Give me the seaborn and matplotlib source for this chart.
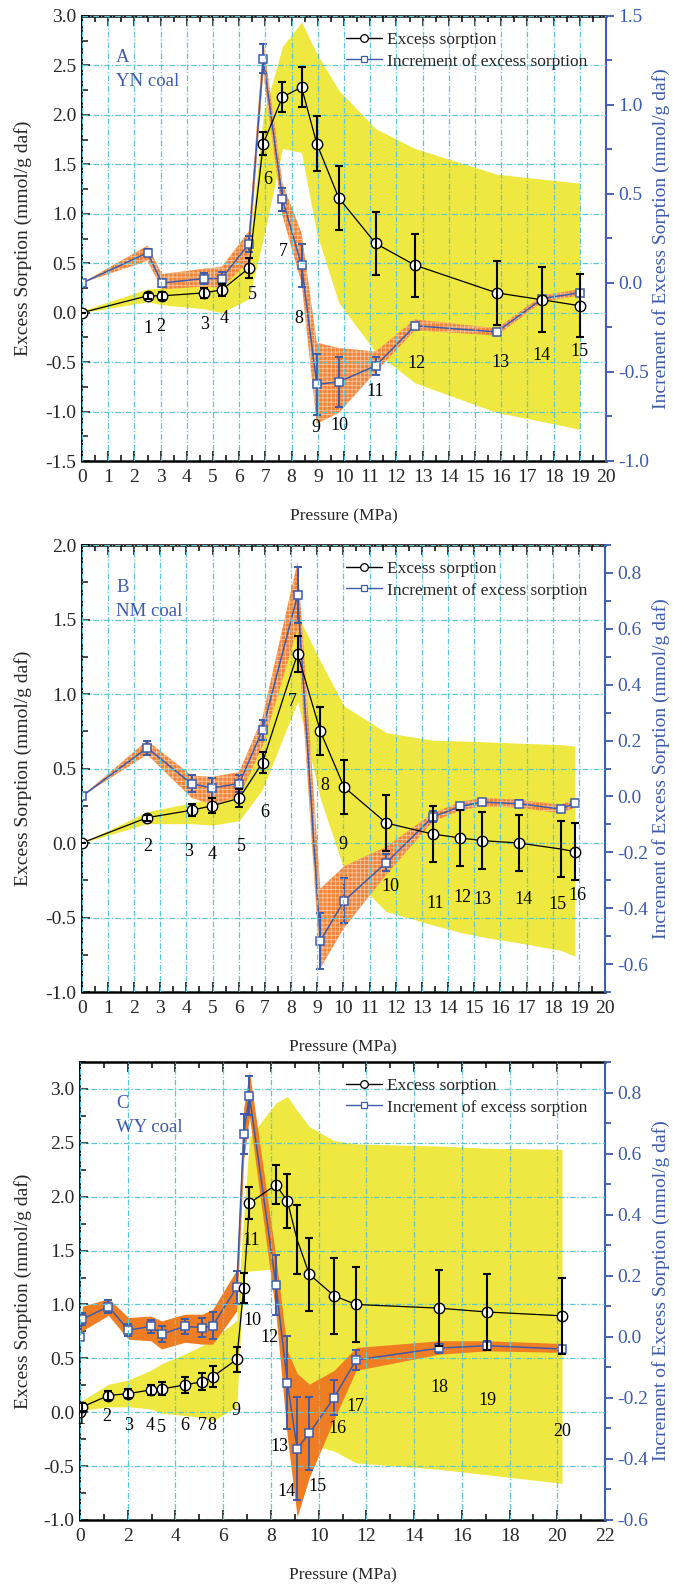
import matplotlib
matplotlib.use("Agg")
import matplotlib.pyplot as plt
from matplotlib.lines import Line2D
from matplotlib.ticker import MultipleLocator, FormatStrFormatter
import seaborn as sns

# ---------------- Panel A : YN coal ----------------
pA = [0, 2.5, 3.05, 4.65, 5.33, 6.37, 6.92, 7.65, 8.38, 8.96, 9.8, 11.21, 12.71, 15.83, 17.57, 19.0]
excA = [0.0, 0.17, 0.17, 0.20, 0.23, 0.45, 1.71, 2.18, 2.28, 1.71, 1.16, 0.70, 0.48, 0.20, 0.13, 0.07]
excA_err = [0, 0.03, 0.04, 0.05, 0.06, 0.10, 0.12, 0.15, 0.20, 0.28, 0.32, 0.32, 0.32, 0.32, 0.33, 0.32]
incA = [0.0, 0.17, 0.0, 0.025, 0.025, 0.22, 1.26, 0.47, 0.10, -0.57, -0.555, -0.465, -0.24, -0.275, -0.088, -0.054]
incA_err = [0, 0.02, 0.02, 0.03, 0.035, 0.045, 0.08, 0.065, 0.12, 0.17, 0.14, 0.05, 0.015, 0.015, 0.015, 0.015]
yelA_lo = [0.0, 0.11, 0.08, 0.04, 0.0, 0.14, 0.75, 1.66, 1.62, 0.80, 0.10, -0.40, -0.71, -1.01, -1.10, -1.18]
yelA_hi = [0.02, 0.24, 0.25, 0.28, 0.30, 0.60, 2.00, 2.69, 2.94, 2.62, 2.25, 1.86, 1.66, 1.40, 1.35, 1.31]
orgA_lo = [0.0, 0.125, -0.035, -0.02, -0.025, 0.12, 1.18, 0.38, 0.0, -0.79, -0.73, -0.50, -0.265, -0.295, -0.105, -0.07]
orgA_hi = [0.0, 0.21, 0.05, 0.08, 0.09, 0.29, 1.36, 0.56, 0.28, -0.335, -0.365, -0.385, -0.205, -0.255, -0.07, -0.035]
labA_x = [2.5, 3.0, 4.68, 5.42, 6.5, 7.08, 7.68, 8.29, 8.92, 9.84, 11.21, 12.77, 15.97, 17.54, 19.0]
labA_y = [-0.16, -0.14, -0.12, -0.06, 0.185, 1.35, 0.616, -0.06, -1.16, -1.14, -0.80, -0.51, -0.50, -0.43, -0.39]
labA_t = [str(i) for i in range(1, 16)]

# ---------------- Panel B : NM coal ----------------
pB = [0, 2.5, 4.2, 4.99, 6.02, 6.91, 8.25, 9.12, 10.03, 11.64, 13.42, 14.47, 15.3, 16.7, 18.3, 18.85]
excB = [0.0, 0.17, 0.22, 0.25, 0.30, 0.54, 1.27, 0.75, 0.375, 0.134, 0.06, 0.034, 0.016, 0.0, -0.04, -0.058]
excB_err = [0, 0.02, 0.04, 0.05, 0.06, 0.07, 0.12, 0.16, 0.18, 0.19, 0.187, 0.187, 0.19, 0.19, 0.19, 0.19]
incB = [0.0, 0.174, 0.045, 0.031, 0.046, 0.238, 0.72, -0.517, -0.373, -0.237, -0.073, -0.036, -0.02, -0.026, -0.045, -0.024]
incB_err = [0, 0.025, 0.03, 0.035, 0.03, 0.035, 0.1, 0.1, 0.08, 0.03, 0.02, 0.012, 0.012, 0.012, 0.012, 0.012]
yelB_lo = [0.0, 0.13, 0.13, 0.12, 0.15, 0.36, 0.95, 0.30, -0.18, -0.46, -0.55, -0.60, -0.63, -0.67, -0.72, -0.76]
yelB_hi = [0.0, 0.21, 0.27, 0.30, 0.45, 0.70, 1.53, 1.22, 0.92, 0.74, 0.69, 0.685, 0.68, 0.67, 0.66, 0.65]
orgB_lo = [0.0, 0.15, -0.005, -0.03, 0.0, 0.18, 0.60, -0.615, -0.47, -0.28, -0.09, -0.05, -0.035, -0.04, -0.06, -0.04]
orgB_hi = [0.0, 0.20, 0.075, 0.07, 0.087, 0.283, 0.84, -0.33, -0.25, -0.18, -0.06, -0.02, -0.005, -0.012, -0.03, -0.01]
labB_x = [2.51, 4.1, 5.0, 6.1, 7.0, 8.06, 9.3, 9.98, 11.8, 13.5, 14.56, 15.3, 16.88, 18.18, 18.96]
labB_y = [-0.022, -0.056, -0.074, -0.022, 0.206, 0.953, 0.385, -0.007, -0.293, -0.405, -0.369, -0.38, -0.376, -0.414, -0.353]
labB_t = [str(i) for i in range(2, 17)]

# ---------------- Panel C : WY coal ----------------
pC = [0, 0.1, 1.19, 2.03, 2.97, 3.42, 4.39, 5.13, 5.56, 6.57, 6.86, 7.1, 8.21, 8.69, 9.1, 9.61, 10.65, 11.57, 15.04, 17.06, 20.2]
excC = [0.0, 0.05, 0.155, 0.173, 0.207, 0.216, 0.253, 0.284, 0.33, 0.49, 1.15, 1.94, 2.11, 1.96, 1.60, 1.28, 1.08, 1.0, 0.966, 0.93, 0.895]
excC_err = [0, 0.04, 0.04, 0.04, 0.05, 0.06, 0.07, 0.08, 0.1, 0.115, 0.14, 0.15, 0.18, 0.25, 0.32, 0.34, 0.35, 0.35, 0.35, 0.35, 0.35]
incC = [0.0, 0.058, 0.099, 0.022, 0.034, 0.009, 0.034, 0.03, 0.036, 0.162, 0.665, 0.79, 0.17, -0.15, -0.366, -0.316, -0.199, -0.076, -0.037, -0.029, -0.04]
incC_err = [0, 0.02, 0.02, 0.02, 0.02, 0.025, 0.025, 0.03, 0.044, 0.055, 0.065, 0.065, 0.097, 0.153, 0.17, 0.12, 0.058, 0.033, 0.015, 0.015, 0.01]
yelC_lo = [0.0, 0.02, 0.05, 0.05, 0.03, -0.01, -0.03, -0.05, -0.08, 0.05, 1.30, 1.31, 1.33, 0.45, -0.10, -0.30, -0.36, -0.47, -0.53, -0.58, -0.66]
yelC_hi = [0.02, 0.11, 0.26, 0.30, 0.39, 0.45, 0.54, 0.62, 0.68, 0.85, 1.80, 2.55, 2.87, 2.93, 2.80, 2.65, 2.52, 2.49, 2.47, 2.45, 2.44]
orgC_lo = [0.0, 0.02, 0.07, -0.008, -0.013, -0.04, -0.018, -0.024, -0.024, 0.085, 0.58, 0.72, 0.075, -0.33, -0.59, -0.46, -0.27, -0.11, -0.057, -0.046, -0.051]
orgC_hi = [0.0, 0.10, 0.125, 0.063, 0.068, 0.052, 0.074, 0.074, 0.09, 0.22, 0.75, 0.87, 0.26, -0.046, -0.12, -0.155, -0.11, -0.035, -0.013, -0.013, -0.022]
labC_x = [0.05, 1.13, 2.03, 2.93, 3.42, 4.37, 5.13, 5.54, 6.53, 7.21, 7.19, 7.93, 8.36, 8.65, 9.95, 10.81, 11.56, 15.07, 17.09, 20.2]
labC_y = [-0.07, -0.04, -0.123, -0.123, -0.139, -0.123, -0.123, -0.123, 0.02, 0.855, 1.59, 0.69, -0.32, -0.735, -0.69, -0.154, 0.052, 0.225, 0.108, -0.18]
labC_t = [str(i) for i in range(1, 21)]

series_names = ["Excess sorption", "Increment of excess sorption"]
left_label = "Excess Sorption (mmol/g daf)"
right_label = "Increment of Excess Sorption (mmol/g daf)"
x_label = "Pressure (MPa)"

# ---------------- style ----------------
sns.set_style("ticks")
plt.rcParams["font.family"] = ["Liberation Serif", "DejaVu Serif"]
plt.rcParams["axes.unicode_minus"] = False
plt.rcParams["hatch.linewidth"] = 0.6

YEL = "#EEE840"
ORG = "#F2853A"
ORG_SOLID = "#F07D22"
HATCH_COL = "#F9C49A"
BLUE = "#3D5BAA"
GRID = "#5FC6D6"

FW, FH = 673, 1589
fig = plt.figure(figsize=(FW / 100, FH / 100), dpi=100)


def panel(box, p, exc, exc_err, inc, inc_err, ylo, yhi, olo, ohi,
          lx, ly, lt, xlim, xstep, ylim, ystep, y2lim, y2step,
          tag, coal, hatched, hide):
    l, t, r, b = box
    w_px, h_px = r - l, b - t
    rect = [l / FW, 1 - b / FH, w_px / FW, h_px / FH]
    ax = fig.add_axes(rect)
    ax2 = ax.twinx()
    ax3 = fig.add_axes(rect, sharex=ax, sharey=ax)
    ax.set_zorder(1)
    ax2.set_zorder(2)
    ax3.set_zorder(3)
    ax3.patch.set_visible(False)
    ax2.patch.set_visible(False)

    # bands
    ax.fill_between(p, ylo, yhi, color=YEL, lw=0, zorder=1)
    if hatched:
        ax2.fill_between(p, olo, ohi, facecolor=ORG, edgecolor=HATCH_COL,
                         hatch="++++", lw=0, zorder=1)
    else:
        ax2.fill_between(p, olo, ohi, facecolor=ORG_SOLID, lw=0, zorder=1)

    # increment series (right axis)
    ax2.errorbar(p, inc, yerr=inc_err, fmt="none", ecolor=BLUE, elinewidth=1.4,
                 capsize=3.2, capthick=1.4, zorder=2)
    sns.lineplot(x=p, y=inc, ax=ax2, color=BLUE, lw=1.1, marker="s", markersize=6,
                 markerfacecolor="white", markeredgecolor=BLUE, markeredgewidth=1.1,
                 sort=False, estimator=None, zorder=3, legend=False)

    # excess series (left axis, overlay)
    keep = [i for i in range(len(p)) if i not in hide]
    sns.lineplot(x=p, y=exc, ax=ax3, color="black", lw=0.9, marker="o", markersize=7.5,
                 markerfacecolor="white", markeredgecolor="black", markeredgewidth=1.0,
                 markevery=keep, sort=False, estimator=None, zorder=2, legend=False)
    ax3.errorbar(p, exc, yerr=exc_err, fmt="none", ecolor="black", elinewidth=1.5,
                 capsize=3.2, capthick=1.5, zorder=3)

    for x, y, s in zip(lx, ly, lt):
        ax3.text(x, y, s, ha="center", va="center", fontsize=13, color="black", zorder=4)

    # limits / ticks
    ax.set_xlim(*xlim)
    ax.set_ylim(*ylim)
    ax2.set_ylim(*y2lim)
    ax.xaxis.set_major_locator(MultipleLocator(xstep))
    ax.xaxis.set_minor_locator(MultipleLocator(xstep / 2))
    ax.xaxis.set_major_formatter(FormatStrFormatter("%d"))
    ax.yaxis.set_major_locator(MultipleLocator(ystep))
    ax.yaxis.set_minor_locator(MultipleLocator(ystep / 2))
    ax.yaxis.set_major_formatter(FormatStrFormatter("%.1f"))
    ax2.yaxis.set_major_locator(MultipleLocator(y2step))
    ax2.yaxis.set_minor_locator(MultipleLocator(y2step / 2))
    ax2.yaxis.set_major_formatter(FormatStrFormatter("%.1f"))

    ax.tick_params(axis="x", which="both", direction="in", top=True, bottom=True,
                   labelsize=14, pad=6, width=1.3)
    ax.tick_params(axis="x", which="major", length=7)
    ax.tick_params(axis="x", which="minor", length=4)
    ax.tick_params(axis="y", which="both", direction="in", left=True, right=False,
                   labelsize=14, pad=4, width=1.2)
    ax.tick_params(axis="y", which="major", length=6)
    ax.tick_params(axis="y", which="minor", length=4)
    ax2.tick_params(axis="y", which="both", direction="out", colors=BLUE,
                    labelsize=14, pad=3, width=1.3)
    ax2.tick_params(axis="y", which="major", length=6)
    ax2.tick_params(axis="y", which="minor", length=4)

    ax3.tick_params(which="both", left=False, right=False, top=False, bottom=False,
                    labelleft=False, labelright=False, labeltop=False, labelbottom=False)
    ax3.grid(True, which="major", color=GRID, linestyle=(0, (4.5, 1.6, 1.0, 1.6)), lw=0.9)
    for s in ax3.spines.values():
        s.set_visible(False)

    for name, s in ax.spines.items():
        s.set_color("black")
        s.set_linewidth(1.8 if name in ("top", "bottom") else 1.3)
    ax.spines["right"].set_visible(False)
    for name in ("left", "top", "bottom"):
        ax2.spines[name].set_visible(False)
    ax2.spines["right"].set_color(BLUE)
    ax2.spines["right"].set_linewidth(1.5)

    # labels
    ax.set_ylabel(left_label, fontsize=14)
    ax.yaxis.set_label_coords((32 - l) / w_px, 0.5)
    ax2.set_ylabel(right_label, fontsize=14, color=BLUE)
    ax2.yaxis.set_label_coords((652 - l) / w_px, 0.5)
    ax.set_xlabel(x_label, fontsize=12.5)
    ax.xaxis.set_label_coords(0.5, -47 / h_px)
    ax3.set_xlabel("")
    ax3.set_ylabel("")

    # panel tag
    ax3.text((116 - l) / w_px, 1 - 42 / h_px, tag, transform=ax3.transAxes,
             ha="left", va="center", fontsize=13.5, color=BLUE)
    ax3.text((116 - l) / w_px, 1 - 66 / h_px, coal, transform=ax3.transAxes,
             ha="left", va="center", fontsize=13.5, color=BLUE)

    # legend
    h1 = Line2D([], [], color="black", lw=1.0, marker="o", ms=5.5, mfc="white", mec="black", mew=0.9)
    h2 = Line2D([], [], color=BLUE, lw=1.0, marker="s", ms=5, mfc="white", mec=BLUE, mew=0.9)
    ax3.legend([h1, h2], series_names, loc="upper left",
               bbox_to_anchor=((346 - l) / w_px, 1 - 16 / h_px), frameon=False,
               fontsize=12.5, handlelength=2.1, handletextpad=0.25, labelspacing=0.3,
               borderpad=0, borderaxespad=0)


panel((82, 16, 606, 461), pA, excA, excA_err, incA, incA_err, yelA_lo, yelA_hi, orgA_lo, orgA_hi,
      labA_x, labA_y, labA_t, (0, 20), 1, (-1.5, 3.0), 0.5, (-1.0, 1.5), 0.5,
      "A", "YN coal", True, [])
panel((81.7, 545, 605, 992), pB, excB, excB_err, incB, incB_err, yelB_lo, yelB_hi, orgB_lo, orgB_hi,
      labB_x, labB_y, labB_t, (0, 20), 1, (-1.0, 2.0), 0.5, (-0.7, 0.9), 0.2,
      "B", "NM coal", True, [14])
panel((80, 1062, 605, 1520), pC, excC, excC_err, incC, incC_err, yelC_lo, yelC_hi, orgC_lo, orgC_hi,
      labC_x, labC_y, labC_t, (0, 22), 2, (-1.0, 3.25), 0.5, (-0.6, 0.9), 0.2,
      "C", "WY coal", False, [14])

fig.savefig("out.png", dpi=100)
